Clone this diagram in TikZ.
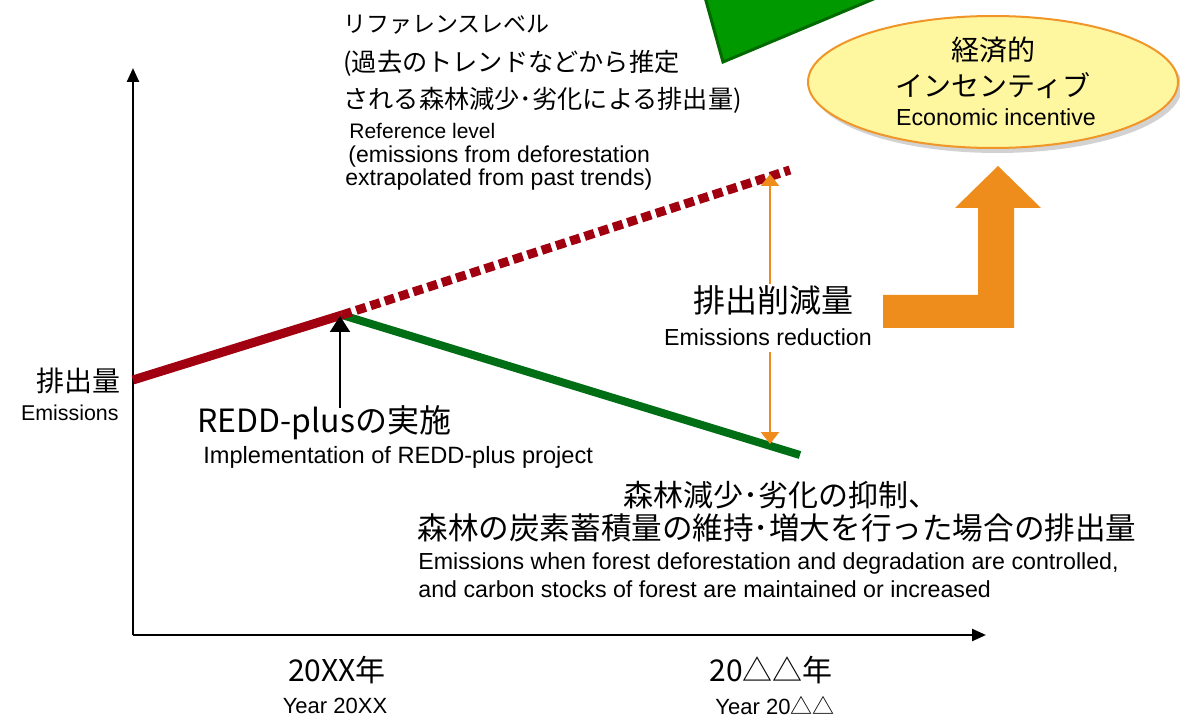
\documentclass[tikz,border=0pt]{standalone}
\usepackage{fontspec}
\setmainfont{Liberation Sans}
\newfontfamily\jp{Noto Sans CJK JP}
\usetikzlibrary{arrows.meta,shadows,shapes.geometric}
\definecolor{redline}{RGB}{160,0,16}
\definecolor{greenline}{RGB}{0,110,20}
\definecolor{orng}{RGB}{238,140,28}
\definecolor{ellfill}{RGB}{255,247,160}
\definecolor{ellborder}{RGB}{240,150,40}
\definecolor{trifill}{RGB}{0,153,0}
\definecolor{triborder}{RGB}{0,105,0}
\tikzset{
  en/.style={inner sep=0pt, font=\fontsize{#1}{#1}\selectfont},
  en/.default=11pt,
  ja/.style={inner sep=0pt, font=\jp\fontsize{#1}{#1}\selectfont},
  ja/.default=12pt,
  axis/.style={line width=1.2pt, -{Triangle[width=6pt,length=7pt]}},
  refline/.style={redline, line width=4.5pt},
  redd/.style={greenline, line width=4pt},
  redarrow/.style={orng, line width=1.1pt, -{Triangle[width=9pt,length=6pt]}},
}
\begin{document}
\begin{tikzpicture}[x=0.5pt,y=-0.5pt]
\useasboundingbox (0,0) rectangle (1180,717);
\fill[white] (0,0) rectangle (1180,717);
% green triangle at top
\begin{scope}
\clip (0,0) rectangle (1180,717);
\filldraw[fill=trifill, draw=triborder, line width=1.5pt] (703,-10) -- (723,62) -- (895,-10) -- cycle;
\end{scope}
% ellipse
\node[ellipse, draw=ellborder, fill=ellfill, line width=1pt, minimum width=185pt, minimum height=66pt,
  drop shadow={shadow xshift=2pt, shadow yshift=-2.5pt, fill=black!35, opacity=0.5}] (ell) at (993,82) {};
\node[ja=14pt] (ell1) at (993,50) {経済的};
\node[ja=14pt] (ell2) at (993,86) {インセンティブ};
\node[en=11.6pt] (ell3) at (996,117) {Economic incentive};
% big orange arrow
\fill[orng] (883,295) -- (978,295) -- (978,208) -- (955,208) -- (998,166) -- (1041,208) -- (1014,208) -- (1014,328) -- (883,328) -- cycle;
% axes
\coordinate (O) at (133,635);
\coordinate (ytop) at (133,68);
\coordinate (xend) at (986,635);
\draw[axis] (O) -- (ytop);
\draw[axis] (O) -- (xend);
% lines
\coordinate (r0) at (133,380);
\coordinate (p) at (342,315);
\coordinate (r1) at (790,170);
\coordinate (g1) at (800,455);
\draw[redd] (p) -- (g1);
\draw[refline, dash pattern=on 5pt off 2.5pt] (p) -- (r1);
\draw[refline] (r0) -- (p);
% implementation arrow
\coordinate (ia) at (340,408);
\coordinate (ib) at (340,316);
\draw[line width=1pt, -{Triangle[width=10pt,length=8pt]}] (ia) -- (ib);
% emission reduction arrows
\coordinate (da1) at (770,284);
\coordinate (da2) at (770,174);
\coordinate (db1) at (770,352);
\coordinate (db2) at (770,444);
\draw[redarrow] (da1) -- (da2);
\draw[redarrow] (db1) -- (db2);
% reference level texts
\node[ja=11.5pt, anchor=west] (rj1) at (343,25) {リファレンスレベル};
\node[ja=12.6pt, anchor=west] (rj2) at (343,63) {(過去のトレンドなどから推定};
\node[ja=12.6pt, anchor=west] (rj3) at (343,100) {される森林減少･劣化による排出量)};
\node[en=10.5pt, anchor=west] (re1) at (349,131) {Reference level};
\node[en=11.5pt, anchor=west] (re2) at (348,157) {(emissions from deforestation};
\node[en=11.5pt, anchor=west] (re3) at (345,180) {extrapolated from past trends)};
% emissions
\node[ja=14pt, anchor=east] (em1) at (121,381) {排出量};
\node[en=10.7pt, anchor=east] (em2) at (119,413) {Emissions};
% REDD-plus
\node[ja=16pt, anchor=west] (rd1) at (197,423) {REDD-plusの実施};
\node[en=11.8pt, anchor=west] (rd2) at (203,457) {Implementation of REDD-plus project};
% emission reduction
\node[ja=16pt] (er1) at (773,300) {排出削減量};
\node[en=11.6pt] (er2) at (768,337) {Emissions reduction};
% controlled emissions
\node[ja=15pt] (c1) at (781,495) {森林減少･劣化の抑制、};
\node[ja=15.3pt, anchor=west] (c2) at (417,528) {森林の炭素蓄積量の維持･増大を行った場合の排出量};
\node[en=11.6pt, anchor=west] (c3) at (418,564) {Emissions when forest deforestation and degradation are controlled,};
\node[en=11.6pt, anchor=west] (c4) at (418,589) {and carbon stocks of forest are maintained or increased};
% years
\node[ja=15pt] (y1) at (337,670) {20XX年};
\node[en=11pt] (y2) at (335,706) {Year 20XX};
\node[ja=15pt] (y3) at (771,670) {20△△年};
\node[en=11pt] (y4) at (775,706) {Year 20\jp △△};
\end{tikzpicture}
\end{document}
